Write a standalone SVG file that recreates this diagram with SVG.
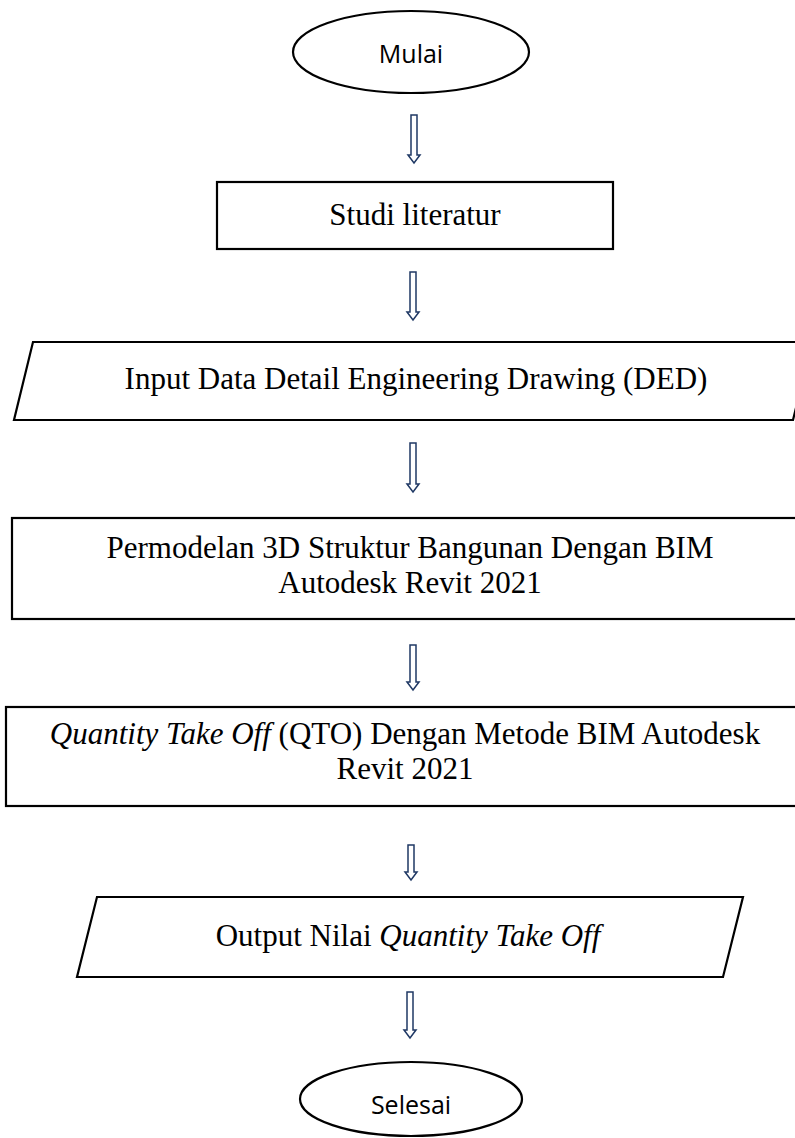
<svg xmlns="http://www.w3.org/2000/svg" width="795" height="1138" viewBox="0 0 795 1138">
<style>
.shape{fill:#ffffff;stroke:#000000;stroke-width:2.2}
.arrow{fill:#ffffff;stroke:#1f3864;stroke-width:1.5;stroke-linejoin:miter}
.serif{font-family:"Liberation Serif","Times New Roman",serif;font-size:31px;fill:#000000;text-anchor:middle}
.sans{font-family:"Open Sans","Liberation Sans",sans-serif;font-size:25px;fill:#000000;text-anchor:middle}
.it{font-style:italic}
</style>
<rect width="795" height="1138" fill="#ffffff"/>
<g id="connectors">
<path class="arrow" d="M411,115 L417,115 L417,155 L420,155 L414,163 L408,155 L411,155 Z"/>
<path class="arrow" d="M410,272 L416,272 L416,312 L419,312 L413,320 L407,312 L410,312 Z"/>
<path class="arrow" d="M410,443 L416,443 L416,484 L419,484 L413,492 L407,484 L410,484 Z"/>
<path class="arrow" d="M410,645 L416,645 L416,682 L419,682 L413,690 L407,682 L410,682 Z"/>
<path class="arrow" d="M408,845 L414,845 L414,872 L417,872 L411,880 L405,872 L408,872 Z"/>
<path class="arrow" d="M407,992 L413,992 L413,1030 L416,1030 L410,1038 L404,1030 L407,1030 Z"/>
</g>
<g id="mulai">
<ellipse class="shape" cx="411" cy="52" rx="118" ry="41"/>
<text class="sans" x="411" y="63">Mulai</text>
</g>
<g id="studi">
<rect class="shape" x="217" y="182" width="396" height="67"/>
<text class="serif" x="415" y="225">Studi literatur</text>
</g>
<g id="input">
<polygon class="shape" points="33,342 812,342 793,420 14,420"/>
<text class="serif" x="416" y="389">Input Data Detail Engineering Drawing (DED)</text>
</g>
<g id="permodelan">
<rect class="shape" x="12" y="518" width="800" height="101"/>
<text class="serif" x="410" y="558">Permodelan 3D Struktur Bangunan Dengan BIM</text>
<text class="serif" x="410" y="593">Autodesk Revit 2021</text>
</g>
<g id="qto">
<rect class="shape" x="6" y="707" width="806" height="99"/>
<text class="serif" x="405" y="744"><tspan class="it">Quantity Take Off</tspan> (QTO) Dengan Metode BIM Autodesk</text>
<text class="serif" x="405" y="779">Revit 2021</text>
</g>
<g id="output">
<polygon class="shape" points="97,897 743,897 723,977 77,977"/>
<text class="serif" x="408" y="946">Output Nilai <tspan class="it">Quantity Take Off</tspan></text>
</g>
<g id="selesai">
<ellipse class="shape" cx="411" cy="1099" rx="111" ry="37"/>
<text class="sans" x="411" y="1114">Selesai</text>
</g>
</svg>
